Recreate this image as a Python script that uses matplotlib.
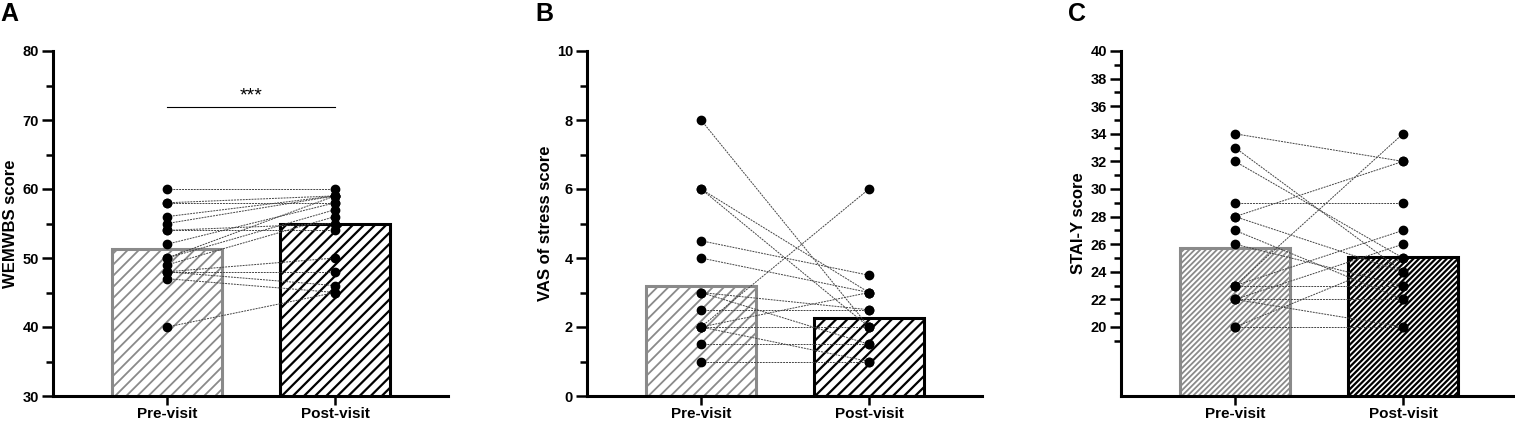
import matplotlib
matplotlib.use("Agg")
import matplotlib.pyplot as plt

plt.rcParams['font.family'] = ['Liberation Sans', 'DejaVu Sans']
plt.rcParams['font.weight'] = 'bold'

groups = ["Pre-visit", "Post-visit"]

# Panel A: WEMWBS
wem_pre = [60, 58, 58, 56, 55, 54, 54, 52, 50, 50, 49, 48, 48, 48, 47, 40]
wem_post = [60, 59, 58, 59, 59, 55, 54, 58, 59, 57, 56, 50, 48, 46, 45, 45]
wem_means = [51.3, 55.0]

# Panel B: VAS of stress
vas_pre = [8, 6, 6, 4.5, 4, 3, 3, 2.5, 2, 2, 2, 2, 1.5, 1]
vas_post = [2, 3, 2, 3.5, 3, 1.5, 2.5, 2.5, 6, 3, 2, 1, 1.5, 1]
vas_means = [3.2, 2.25]

# Panel C: STAI-Y
stai_pre = [34, 33, 32, 29, 28, 28, 27, 26, 23, 23, 23, 22, 22, 22, 20, 20]
stai_post = [32, 24, 25, 29, 32, 24, 22, 23, 34, 27, 23, 26, 22, 20, 20, 25]
stai_means = [25.7, 25.1]

W, H = 1515, 425
fig = plt.figure(figsize=(W / 100, H / 100), dpi=100)

def px_axes(left, right, top=51, bottom=396):
    return fig.add_axes([left / W, 1 - bottom / H, (right - left) / W, (bottom - top) / H])

def style(ax):
    for s in ['top', 'right']:
        ax.spines[s].set_visible(False)
    for s in ['left', 'bottom']:
        ax.spines[s].set_linewidth(2.2)
    ax.tick_params(axis='y', which='major', length=8, width=1.8, labelsize=10.5, pad=2)
    ax.tick_params(axis='y', which='minor', length=5, width=1.8)
    ax.tick_params(axis='x', length=6.5, width=1.8, pad=1.5, labelsize=11)
    for lab in ax.get_xticklabels() + ax.get_yticklabels():
        lab.set_fontweight('bold')

def panel(ax, pre, post, means, hatch, ylabel, ylim, majors, minors):
    x = [0, 1]
    with plt.rc_context({'hatch.linewidth': 1.3}):
        ax.bar(x[0], means[0], width=0.66, facecolor='white', edgecolor='#8a8a8a',
               hatch=hatch, linewidth=2.2, zorder=1)
    with plt.rc_context({'hatch.linewidth': 1.6}):
        ax.bar(x[1], means[1], width=0.66, facecolor='white', edgecolor='black',
               hatch=hatch, linewidth=2.2, zorder=1)
    for a, b in zip(pre, post):
        ax.plot(x, [a, b], color='#444444', lw=0.7, ls=(0, (2, 1)), zorder=2)
    ax.plot([0] * len(pre), pre, 'o', color='black', ms=6, zorder=3, clip_on=False)
    ax.plot([1] * len(post), post, 'o', color='black', ms=6, zorder=3, clip_on=False)
    ax.set_xlim(-0.679, 1.673)
    ax.set_ylim(*ylim)
    ax.set_xticks(x)
    ax.set_xticklabels(groups, fontsize=11, fontweight='bold')
    ax.set_yticks(majors)
    ax.set_yticks(minors, minor=True)
    ax.set_ylabel(ylabel, fontsize=12, fontweight='bold', labelpad=3)
    style(ax)

axA = px_axes(53, 448)
panel(axA, wem_pre, wem_post, wem_means, '///', 'WEMWBS score', (30, 80),
      list(range(30, 81, 10)), list(range(35, 80, 10)))
axA.plot([0, 1], [71.9, 71.9], color='black', lw=0.8)
axA.text(0.5, 72.9, '***', ha='center', va='baseline', fontsize=14, fontweight='normal')

axB = px_axes(587, 982)
panel(axB, vas_pre, vas_post, vas_means, '///', 'VAS of stress score', (0, 10),
      list(range(0, 11, 2)), list(range(1, 10, 2)))

axC = px_axes(1121, 1516)
panel(axC, stai_pre, stai_post, stai_means, '//////', 'STAI-Y score', (15, 40),
      list(range(20, 41, 2)), list(range(19, 40, 2)))

fig.text(0 / W, 1 - 2 / H, 'A', fontsize=18, fontweight='bold', va='top', ha='left')
fig.text(535 / W, 1 - 2 / H, 'B', fontsize=18, fontweight='bold', va='top', ha='left')
fig.text(1068 / W, 1 - 2 / H, 'C', fontsize=18, fontweight='bold', va='top', ha='left')

fig.savefig('out.png', dpi=100)
